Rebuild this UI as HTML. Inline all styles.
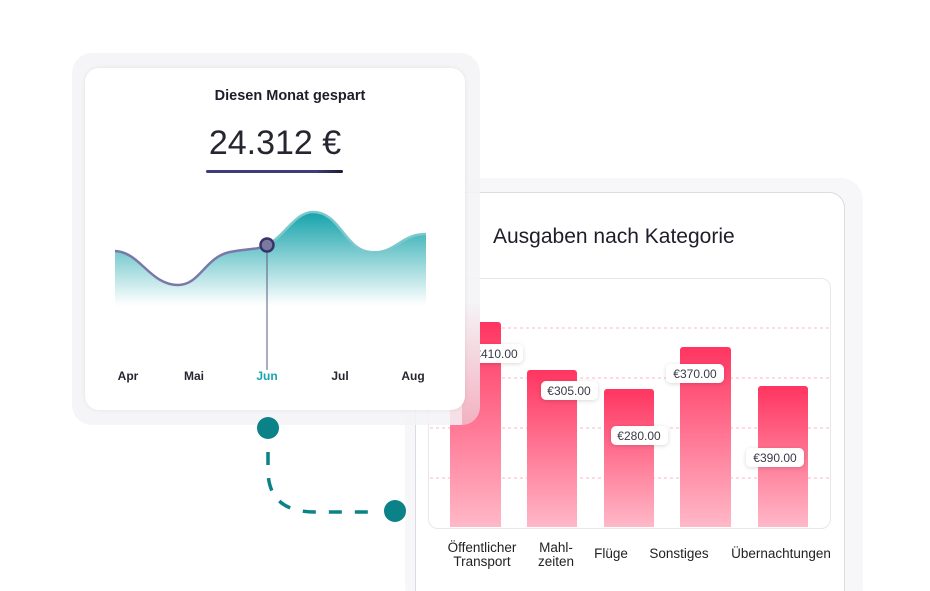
<!DOCTYPE html>
<html><head><meta charset="utf-8"><style>
html,body{margin:0;padding:0;background:#fff;width:930px;height:591px;overflow:hidden;}
body{position:relative;font-family:"Liberation Sans",sans-serif;}
.abs{position:absolute;}
</style></head><body>
<!-- right card -->
<div class="abs" style="left:405px;top:178px;width:458px;height:430px;background:#f7f7f9;border-radius:22px;"></div>
<div class="abs" style="left:415px;top:192px;width:428px;height:420px;background:#fff;border:1.5px solid #dcdce0;border-radius:16px;"></div>
<div class="abs" style="left:493px;top:225px;font-size:21px;color:#1e1e2a;">Ausgaben nach Kategorie</div>
<div class="abs" style="left:428px;top:278px;width:401px;height:249px;border:1.5px solid #e8e8ec;border-radius:10px;background:#fff;"></div>
<svg class="abs" style="left:0;top:0" width="930" height="591">
<defs>
<linearGradient id="bar" x1="0" y1="0" x2="0" y2="1"><stop offset="0" stop-color="#ff3560"/><stop offset="1" stop-color="#ffb8c8"/></linearGradient>
<linearGradient id="area" x1="0" y1="0" x2="0" y2="1"><stop offset="0" stop-color="#14a3aa"/><stop offset="0.9" stop-color="#14a3aa" stop-opacity="0.05"/><stop offset="1" stop-color="#fff" stop-opacity="0"/></linearGradient>
<filter id="sh" x="-20%" y="-40%" width="140%" height="180%"><feDropShadow dx="0" dy="1" stdDeviation="2" flood-color="#000" flood-opacity="0.15"/></filter>
</defs>
<g stroke="#ffb6c4" stroke-dasharray="3 3" stroke-width="1">
<line x1="430" y1="328" x2="829" y2="328"/><line x1="430" y1="378" x2="829" y2="378"/><line x1="430" y1="428" x2="829" y2="428"/><line x1="430" y1="478" x2="829" y2="478"/>
</g>
<g fill="url(#bar)">
<path d="M450 527V325a3 3 0 0 1 3-3h45a3 3 0 0 1 3 3V527z"/>
<path d="M527 527V373a3 3 0 0 1 3-3h44a3 3 0 0 1 3 3V527z"/>
<path d="M604 527V392a3 3 0 0 1 3-3h44a3 3 0 0 1 3 3V527z"/>
<path d="M680 527V350a3 3 0 0 1 3-3h45a3 3 0 0 1 3 3V527z"/>
<path d="M758 527V389a3 3 0 0 1 3-3h44a3 3 0 0 1 3 3V527z"/>
</g>
<g filter="url(#sh)" fill="#fff">
<rect x="470" y="344" width="53" height="19" rx="5"/>
<rect x="541" y="381" width="57" height="19" rx="5"/>
<rect x="611" y="426" width="57" height="19" rx="5"/>
<rect x="666" y="364" width="58" height="19" rx="5"/>
<rect x="746" y="448" width="58" height="19" rx="5"/>
</g>
<g font-family="Liberation Sans, sans-serif" font-size="12" fill="#3a3a48" text-anchor="middle">
<text x="496" y="358">€410.00</text>
<text x="569" y="395">€305.00</text>
<text x="639" y="440">€280.00</text>
<text x="695" y="378">€370.00</text>
<text x="775" y="462">€390.00</text>
</g>
<g font-family="Liberation Sans, sans-serif" font-size="13.5" fill="#222" text-anchor="middle">
<text x="482" y="552">Öffentlicher</text><text x="482" y="566">Transport</text>
<text x="556" y="552">Mahl-</text><text x="556" y="566">zeiten</text>
<text x="611" y="558">Flüge</text>
<text x="679" y="558">Sonstiges</text>
<text x="781" y="558">Übernachtungen</text>
</g>
</svg>
<!-- left card -->
<div class="abs" style="left:72px;top:53px;width:408px;height:372px;background:rgba(243,243,246,0.85);border-radius:20px;"></div>
<div class="abs" style="left:462px;top:300px;width:18px;height:125px;background:linear-gradient(#f5f5f7,#f3b0c0);border-radius:0 0 20px 0;"></div>
<div class="abs" style="left:85px;top:68px;width:380px;height:342px;background:#fff;border-radius:14px;box-shadow:0 0 4px rgba(0,0,0,0.08);"></div>
<div class="abs" style="left:140px;top:88px;width:300px;text-align:center;font-size:14.5px;font-weight:bold;color:#1e1e2a;">Diesen Monat gespart</div>
<div class="abs" style="left:125px;top:124px;width:300px;text-align:center;font-size:34px;color:#262630;">24.312 €</div>
<div class="abs" style="left:206px;top:170px;width:137px;height:3px;border-radius:2px;background:linear-gradient(90deg,#3f3c78 80%,#1d1b33);"></div>
<svg class="abs" style="left:0;top:0" width="930" height="591">
<path d="M115 251 C140 252 150 285 178 285 C200 285 205 257 230 252 C250 248 258 250 267 245 C285 236 295 212 313 212 C340 212 345 250 370 252 C395 255 400 234 426 234 V310 H115Z" fill="url(#area)"/>
<path d="M115 251 C140 252 150 285 178 285 C200 285 205 257 230 252 C250 248 258 250 267 245" fill="none" stroke="#7a78a8" stroke-width="2.5"/>
<path d="M267 245 C285 236 295 212 313 212 C340 212 345 250 370 252 C395 255 400 234 426 234" fill="none" stroke="#7cc8cc" stroke-width="2.5"/>
<line x1="267" y1="250" x2="267" y2="370" stroke="#5a5a80" stroke-width="1"/>
<circle cx="267" cy="245" r="6.5" fill="#7b7aa0" stroke="#38356a" stroke-width="2.5"/>
<g font-family="Liberation Sans, sans-serif" font-size="12" font-weight="bold" fill="#262630" text-anchor="middle">
<text x="128" y="380">Apr</text><text x="194" y="380">Mai</text><text x="267" y="380" fill="#19a5b0">Jun</text><text x="340" y="380">Jul</text><text x="413" y="380">Aug</text>
</g>
<!-- connector -->
<path d="M268 452 V470 Q268 512 315 512 H380" fill="none" stroke="#0a8288" stroke-width="3.5" stroke-dasharray="13 13"/>
<circle cx="268" cy="428" r="11" fill="#0a8288"/>
<circle cx="395" cy="511" r="11" fill="#0a8288"/>
</svg>
</body></html>
